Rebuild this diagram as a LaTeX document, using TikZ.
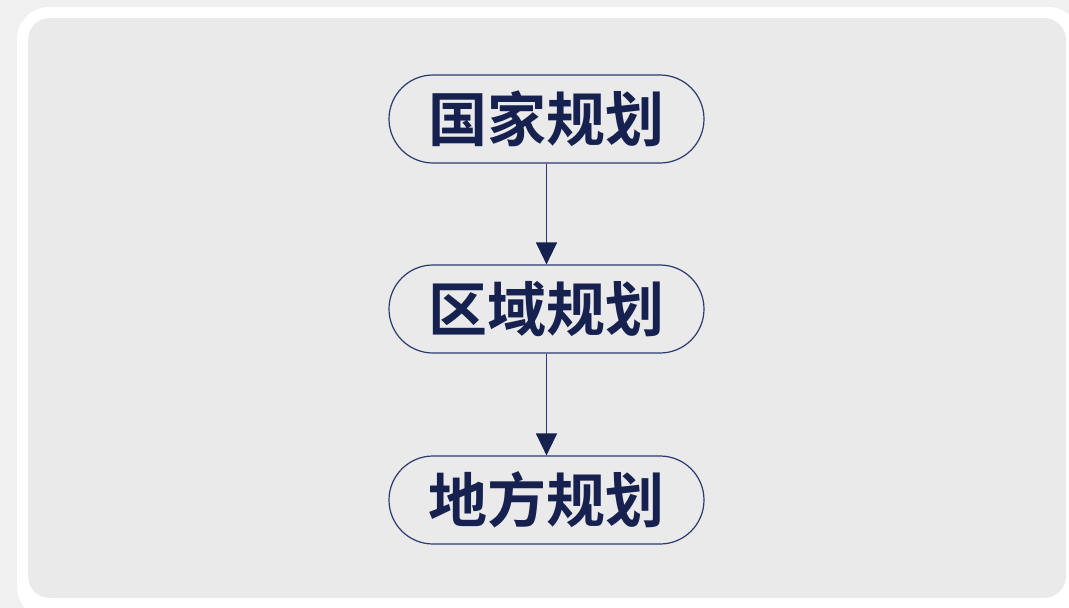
\documentclass[tikz,border=0pt]{standalone}
\usepackage{fontspec}
\newfontfamily\cjk{Noto Sans CJK SC Bold}
\usetikzlibrary{arrows.meta}
\definecolor{bgout}{HTML}{F0F0F0}
\definecolor{panel}{HTML}{EAEAEA}
\definecolor{navy}{HTML}{2B3A6E}
\definecolor{ink}{HTML}{16214F}
\tikzset{
  pill/.style={draw=navy, line width=1.2pt, rounded corners=44pt, minimum width=315pt, minimum height=88pt, inner sep=0pt, text=ink, font=\cjk\fontsize{59}{62}\selectfont},
  flow/.style={draw=navy, line width=1.3pt, -{Triangle[length=22pt,width=21pt,color=ink]}},
}
\begin{document}
\begin{tikzpicture}[x=1pt,y=-1pt]
\useasboundingbox (0,0) rectangle (1069,608);
\fill[bgout] (0,0) rectangle (1069,608);
\fill[white, rounded corners=32pt] (17,7) rectangle (1080,619);
\fill[panel, rounded corners=22pt] (28,18) rectangle (1066,598);
\node[pill] (a) at (546.5,119) {国家规划};
\node[pill] (b) at (546.5,309) {区域规划};
\node[pill] (c) at (546.5,500) {地方规划};
\draw[flow] (a) -- (b);
\draw[flow] (b) -- (c);
\end{tikzpicture}
\end{document}
